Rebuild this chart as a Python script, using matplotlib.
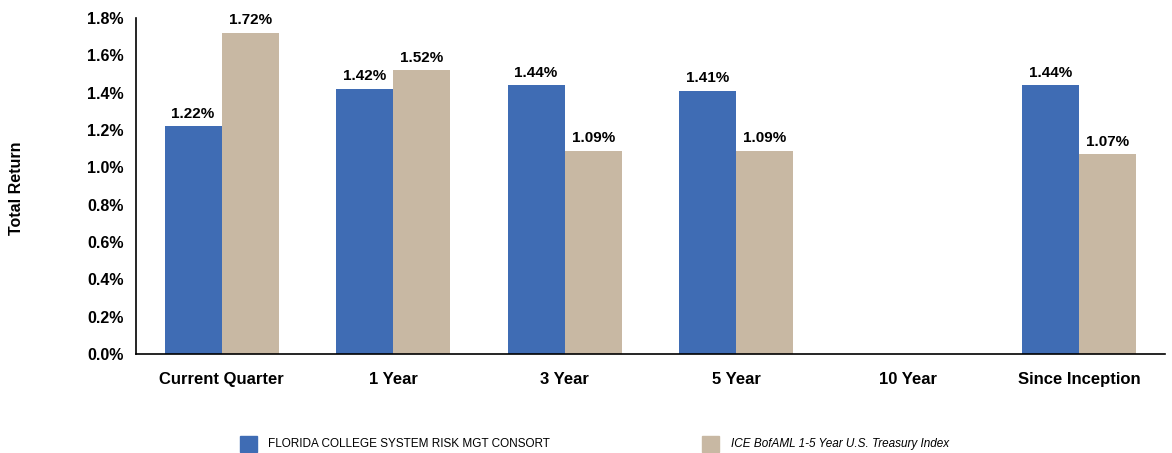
import matplotlib
matplotlib.use("Agg")
import matplotlib.pyplot as plt
import numpy as np

categories = ["Current Quarter", "1 Year", "3 Year", "5 Year", "10 Year", "Since Inception"]
fund_name = "FLORIDA COLLEGE SYSTEM RISK MGT CONSORT"
index_name = "ICE BofAML 1-5 Year U.S. Treasury Index"
fund_values = [1.22, 1.42, 1.44, 1.41, None, 1.44]
index_values = [1.72, 1.52, 1.09, 1.09, None, 1.07]
yticks = [0.0, 0.2, 0.4, 0.6, 0.8, 1.0, 1.2, 1.4, 1.6, 1.8]

plt.rcParams['font.family'] = ['Liberation Sans', 'DejaVu Sans']

fig = plt.figure(figsize=(11.72, 4.53), dpi=100)
ax = fig.add_axes([0.116, 0.2185, 0.878, 0.7415])

blue = "#3F6CB4"
tan = "#C8B8A3"
w = 1/3
x = np.arange(len(categories))
for i in range(len(categories)):
    for val, off, col in [(fund_values[i], -w/2, blue), (index_values[i], w/2, tan)]:
        if val is None:
            continue
        ax.bar(x[i] + off, val, width=w, color=col, linewidth=0)
        ax.text(x[i] + off, val + 0.03, f"{val:.2f}%", ha="center", va="bottom",
                fontsize=11, fontweight="bold")

ax.set_xlim(-0.5, len(categories) - 0.5)
ax.set_ylim(0, 1.8)
ax.set_yticks(yticks)
ax.set_yticklabels([f"{t:.1f}%" for t in yticks], fontsize=11.5, fontweight="bold")
ax.set_xticks(x)
ax.set_xticklabels(categories, fontsize=12, fontweight="bold")
ax.tick_params(axis="both", length=0)
ax.tick_params(axis="y", pad=9)
ax.tick_params(axis="x", pad=13)
for s in ["top", "right"]:
    ax.spines[s].set_visible(False)
ax.spines["left"].set_linewidth(1.2)
ax.spines["bottom"].set_linewidth(1.2)

fig.text(0.014, 0.585, "Total Return", rotation=90, ha="center", va="center",
         fontsize=11.5, fontweight="bold")

# Legend
fig.patches.append(plt.Rectangle((240/1172, 1-452/453), 17/1172, 16/453,
                                 transform=fig.transFigure, color=blue))
fig.text(268/1172, 1-444/453, fund_name, fontsize=8.5, va="center", ha="left")
fig.patches.append(plt.Rectangle((702/1172, 1-452/453), 17/1172, 16/453,
                                 transform=fig.transFigure, color=tan))
fig.text(731/1172, 1-444/453, index_name, fontsize=8.5, va="center", ha="left", style="italic")

fig.savefig("out.png", dpi=100)
